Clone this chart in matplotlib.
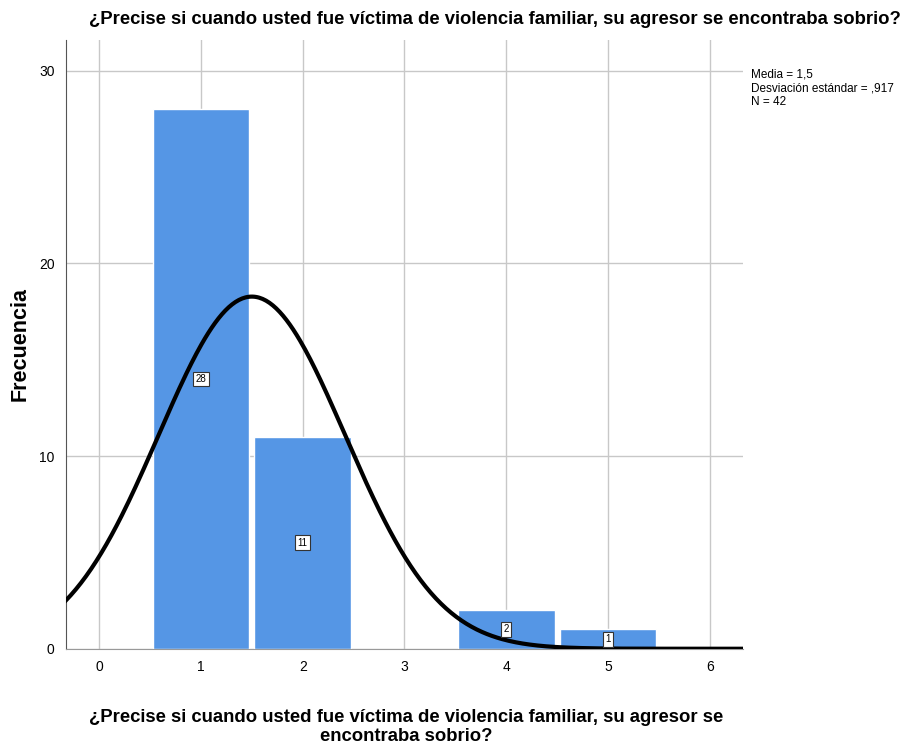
import numpy as np
import matplotlib.pyplot as plt

plt.rcParams['font.family'] = ['Liberation Sans', 'DejaVu Sans']

valores = [1, 2, 4, 5]
frecuencias = [28, 11, 2, 1]
media = 1.5
desv = 0.917
n = 42
titulo = "¿Precise si cuando usted fue víctima de violencia familiar, su agresor se encontraba sobrio?"
xlabel = "¿Precise si cuando usted fue víctima de violencia familiar, su agresor se\nencontraba sobrio?"

fig = plt.figure(figsize=(9.12, 7.5), dpi=100)
ax = fig.add_axes([0.072, 0.135, 0.743, 0.812])

ax.bar(valores, frecuencias, width=0.95, color='#5596e5', edgecolor='white', linewidth=1.0, zorder=2)

# etiquetas de frecuencia en el centro de cada barra
for v, f in zip(valores, frecuencias):
    ax.text(v, f / 2, str(f), ha='center', va='center', fontsize=7, zorder=4,
            bbox=dict(boxstyle='square,pad=0.25', fc='white', ec='#333333', lw=0.8))

# curva normal escalada a la frecuencia
xmin, xmax = -0.33, 6.33
xs = np.linspace(xmin, xmax, 400)
ys = n * 1.0 / (desv * np.sqrt(2 * np.pi)) * np.exp(-0.5 * ((xs - media) / desv) ** 2)
ax.plot(xs, ys, color='black', lw=3, zorder=3)

ax.set_xlim(xmin, xmax)
ax.set_ylim(0, 31.6)
ax.set_xticks(range(0, 7))
ax.set_yticks([0, 10, 20, 30])
ax.grid(True, color='#c8c8c8', lw=1, zorder=0)
ax.set_axisbelow(True)
for s in ['top', 'right']:
    ax.spines[s].set_visible(False)
ax.spines['left'].set_color('#555555')
ax.spines['bottom'].set_color('#999999')
ax.tick_params(length=0, labelsize=10, pad=8)

ax.set_title(titulo, fontsize=13.3, fontweight='bold', pad=11, x=0.634)
ax.set_ylabel("Frecuencia", fontsize=15.5, fontweight='bold', labelpad=6)
ax.set_xlabel(xlabel, fontsize=13.3, fontweight='bold', linespacing=1.15, labelpad=25, x=0.503)

fig.text(0.823, 0.909, "Media = 1,5\nDesviación estándar = ,917\nN = 42",
         fontsize=8.5, va='top', ha='left', linespacing=1.2)

fig.savefig('out.png', dpi=100)
